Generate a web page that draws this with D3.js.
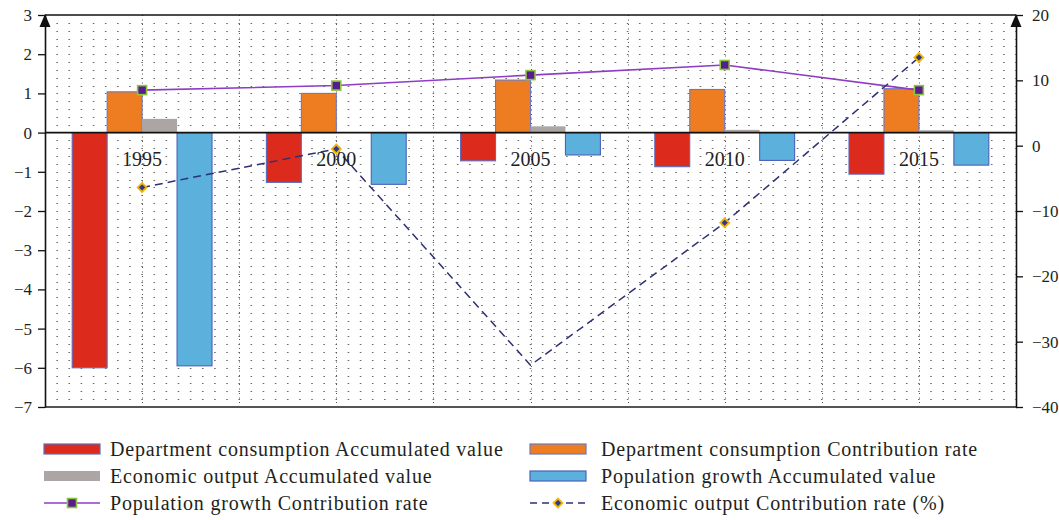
<!DOCTYPE html>
<html>
<head>
<meta charset="utf-8">
<script src="https://cdn.jsdelivr.net/npm/d3@7/dist/d3.min.js"></script>
<style>
  html, body { margin: 0; padding: 0; background: #fff; }
  svg { display: block; }
  text { font-family: "Liberation Serif", "Times New Roman", serif; fill: #231f20; }
</style>
</head>
<body>
<svg id="chart" width="1059" height="520"></svg>
<script>
// ---------------- DATA ----------------
const categories = ["1995", "2000", "2005", "2010", "2015"];
const barSeries = [
  "Department consumption Accumulated value",
  "Department consumption Contribution rate",
  "Economic output Accumulated value",
  "Population growth Accumulated value"
];
const deptConsumptionAccum = [-6.0, -1.27, -0.72, -0.87, -1.06];
const deptConsumptionRate  = [1.04, 1.0, 1.34, 1.1, 1.12];
const econOutputAccum      = [0.35, 0.0, 0.16, 0.07, 0.06];
const popGrowthAccum       = [-5.95, -1.32, -0.57, -0.71, -0.83];
const popGrowthRate        = [8.5, 9.2, 10.8, 12.35, 8.5];     // right axis
const econOutputRate       = [-6.4, -0.5, -33.6, -11.8, 13.5]; // right axis
const econOutputMarkers    = [true, true, false, true, true];
const leftTicks  = [-7, -6, -5, -4, -3, -2, -1, 0, 1, 2, 3];
const rightTicks = [-40, -30, -20, -10, 0, 10, 20];

const barValues = [deptConsumptionAccum, deptConsumptionRate, econOutputAccum, popGrowthAccum];
const barColors = ["#dc2b1d", "#ee7d22", "#aba6a4", "#5cb0dc"];
const barStrokes = ["#5b6cbf", "#6a78c4", "none", "#4a62b8"];

// ---------------- LAYOUT ----------------
const svg = d3.select("#chart");
const L = 45, R = 1016, T = 15, B = 407;

const x0 = d3.scaleBand().domain(categories).range([L, R]).padding(0);
const bw = x0.bandwidth();
const x1 = d3.scaleBand().domain(barSeries).range([bw * 0.14, bw * 0.86]).padding(0);
const yL = d3.scaleLinear().domain([-7, 3]).range([B, T]);
const yR = d3.scaleLinear().domain([-40, 20]).range([B, T]);

// ---------------- GRID ----------------
const grid = svg.append("g");
const dotStep = bw / 16;
const minorVals = d3.range(-7, 3.0001, 0.2).map(v => Math.round(v * 10) / 10)
  .filter(v => v !== 0 && v !== -7 && v !== 3);
grid.selectAll("line.h").data(minorVals).enter().append("line")
  .attr("x1", L).attr("x2", R)
  .attr("y1", d => Math.round(yL(d)) + 0.5).attr("y2", d => Math.round(yL(d)) + 0.5)
  .attr("stroke", "#6a6a6a").attr("stroke-width", 1)
  .attr("stroke-dasharray", `1.6,${dotStep - 1.6}`)
  .attr("stroke-dashoffset", 0.8 + dotStep);
const halfBands = d3.range(1, categories.length * 2).map(k => L + k * bw / 2);
grid.selectAll("line.v").data(halfBands).enter().append("line")
  .attr("x1", d => Math.round(d) + 0.5).attr("x2", d => Math.round(d) + 0.5)
  .attr("y1", T).attr("y2", B)
  .attr("stroke", "#555").attr("stroke-width", 1)
  .attr("stroke-dasharray", "1,3.5");

// ---------------- BARS ----------------
const groups = svg.append("g").selectAll("g").data(categories).enter().append("g")
  .attr("transform", d => `translate(${x0(d)},0)`);
groups.selectAll("rect").data((c, ci) => barSeries.map((s, si) => ({ s, si, v: barValues[si][ci] })))
  .enter().append("rect")
  .attr("x", d => x1(d.s))
  .attr("width", x1.bandwidth())
  .attr("y", d => Math.min(yL(d.v), yL(0)))
  .attr("height", d => Math.abs(yL(d.v) - yL(0)))
  .attr("fill", d => barColors[d.si])
  .attr("stroke", d => barStrokes[d.si])
  .attr("stroke-width", 1.1);

// ---------------- FRAME / AXES ----------------
svg.append("line").attr("x1", L).attr("x2", R).attr("y1", yL(0)).attr("y2", yL(0))
  .attr("stroke", "#111").attr("stroke-width", 1.6);
svg.append("line").attr("x1", L).attr("x2", R).attr("y1", T).attr("y2", T)
  .attr("stroke", "#111").attr("stroke-width", 1.4);
svg.append("line").attr("x1", L).attr("x2", R).attr("y1", B).attr("y2", B)
  .attr("stroke", "#555").attr("stroke-width", 1.8);

const axL = svg.append("g").attr("transform", `translate(${L},0)`)
  .call(d3.axisLeft(yL).tickValues(leftTicks).tickSize(7).tickPadding(6).tickSizeOuter(0));
const axR = svg.append("g").attr("transform", `translate(${R},0)`)
  .call(d3.axisRight(yR).tickValues(rightTicks).tickSize(7).tickPadding(9).tickSizeOuter(0));
[axL, axR].forEach(a => {
  a.attr("font-family", "Liberation Serif").attr("font-size", 17);
  a.select(".domain").attr("stroke", "#111").attr("stroke-width", 1.6);
  a.selectAll(".tick line").attr("stroke", "#111").attr("stroke-width", 1.3);
  a.selectAll(".tick text").attr("font-family", "Liberation Serif")
    .style("font-family", "Liberation Serif").style("font-size", "17px").attr("fill", "#231f20");
});
// arrows
[L, R].forEach(ax => {
  svg.append("path")
    .attr("d", `M${ax},${T - 1} L${ax - 5.5},${T + 12} L${ax + 5.5},${T + 12} Z`)
    .attr("fill", "#111");
});

// ---------------- LINES ----------------
const cx = c => x0(c) + bw / 2;
const purpleLine = d3.line().x((d, i) => cx(categories[i])).y(d => yR(d));
svg.append("path").attr("d", purpleLine(popGrowthRate))
  .attr("fill", "none").attr("stroke", "#8e3cc4").attr("stroke-width", 1.6);
svg.append("path").attr("d", purpleLine(econOutputRate))
  .attr("fill", "none").attr("stroke", "#2e3172").attr("stroke-width", 1.5)
  .attr("stroke-dasharray", "8,5");

// category labels
svg.append("g").selectAll("text").data(categories).enter().append("text")
  .attr("x", d => cx(d)).attr("y", yL(0) + 33)
  .attr("text-anchor", "middle").style("font-size", "20px").text(d => d);

// markers
svg.append("g").selectAll("rect").data(popGrowthRate).enter().append("rect")
  .attr("x", (d, i) => cx(categories[i]) - 4.5).attr("y", d => yR(d) - 4.5)
  .attr("width", 9).attr("height", 9)
  .attr("fill", "#5a1c8c").attr("stroke", "#8cc63f").attr("stroke-width", 1.6);
const diamond = d3.symbol().type(d3.symbolDiamond2).size(50);
svg.append("g").selectAll("path")
  .data(econOutputRate.map((v, i) => ({ v, i })).filter(d => econOutputMarkers[d.i]))
  .enter().append("path")
  .attr("d", diamond)
  .attr("transform", d => `translate(${cx(categories[d.i])},${yR(d.v)})`)
  .attr("fill", "#2d3a8c").attr("stroke", "#f6b400").attr("stroke-width", 1.8);

// ---------------- LEGEND ----------------
const legendItems = [
  { label: barSeries[0], type: "bar", i: 0, col: 0, row: 0 },
  { label: barSeries[1], type: "bar", i: 1, col: 1, row: 0 },
  { label: barSeries[2], type: "bar", i: 2, col: 0, row: 1 },
  { label: barSeries[3], type: "bar", i: 3, col: 1, row: 1 },
  { label: "Population growth Contribution rate", type: "purple", col: 0, row: 2 },
  { label: "Economic output Contribution rate (%)", type: "dash", col: 1, row: 2 }
];
const colX = [44, 530], rowY = [449, 476, 503];
const lg = svg.append("g").selectAll("g").data(legendItems).enter().append("g")
  .attr("transform", d => `translate(${colX[d.col]},${rowY[d.row]})`);
lg.each(function (d) {
  const g = d3.select(this);
  if (d.type === "bar") {
    g.append("rect").attr("x", 0).attr("y", -5).attr("width", 56).attr("height", 10)
      .attr("fill", barColors[d.i]).attr("stroke", barStrokes[d.i]).attr("stroke-width", 1.2);
  } else if (d.type === "purple") {
    g.append("line").attr("x1", 0).attr("x2", 56).attr("y1", 0).attr("y2", 0)
      .attr("stroke", "#8e3cc4").attr("stroke-width", 1.6);
    g.append("rect").attr("x", 23.5).attr("y", -4.5).attr("width", 9).attr("height", 9)
      .attr("fill", "#5a1c8c").attr("stroke", "#8cc63f").attr("stroke-width", 1.6);
  } else {
    g.append("line").attr("x1", 0).attr("x2", 56).attr("y1", 0).attr("y2", 0)
      .attr("stroke", "#2e3172").attr("stroke-width", 1.5).attr("stroke-dasharray", "7,5");
    g.append("path").attr("d", diamond).attr("transform", "translate(28,0)")
      .attr("fill", "#2d3a8c").attr("stroke", "#f6b400").attr("stroke-width", 1.8);
  }
  g.append("text").attr("x", d.col === 0 ? 66 : 71).attr("y", 7)
    .style("font-size", "20px").style("letter-spacing", "0.8px").text(d.label);
});
</script>
</body>
</html>
